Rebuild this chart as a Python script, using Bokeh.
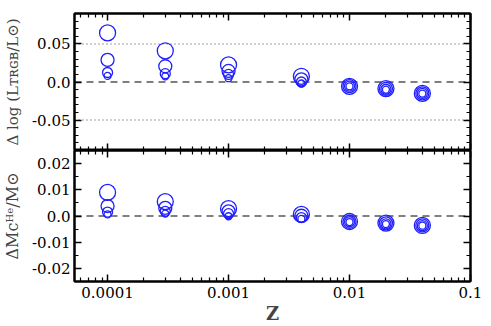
from bokeh.plotting import figure
from bokeh.models import LogAxis, LinearAxis, FixedTicker, Span, Range1d
from bokeh.layouts import column
from bokeh.embed import file_html
from bokeh.resources import INLINE

# ---------------- data ----------------
Z = [1e-4, 3e-4, 1e-3, 4e-3, 1e-2, 2e-2, 4e-2]

# four model sets per metallicity (largest to smallest marker)
dlogL_set1 = [0.0645, 0.041, 0.0225, 0.0075, -0.0057, -0.0087, -0.0150]
dlogL_set2 = [0.0290, 0.0207, 0.0145, 0.0035, -0.0055, -0.0090, -0.0150]
dlogL_set3 = [0.0125, 0.0110, 0.0100, 0.0000, -0.0055, -0.0095, -0.0150]
dlogL_set4 = [0.0080, 0.0075, 0.0050, -0.0020, -0.0057, -0.0100, -0.0152]

dMc_set1 = [0.0090, 0.0055, 0.0028, 0.0006, -0.0021, -0.0027, -0.0036]
dMc_set2 = [0.0038, 0.0031, 0.0018, 0.0001, -0.0022, -0.0028, -0.0036]
dMc_set3 = [0.0015, 0.0018, 0.0009, -0.0006, -0.0022, -0.0030, -0.0037]
dMc_set4 = [0.0006, 0.0009, -0.0001, -0.0011, -0.0023, -0.0031, -0.0037]

x_major = [1e-4, 1e-3, 1e-2, 1e-1]
x_labels = ["0.0001", "0.001", "0.01", "0.1"]
x_minor = [k * 10.0 ** e for e in range(-5, -1) for k in range(2, 10)]

top_major = [-0.05, 0.0, 0.05]
top_labels = ["-0.05", "0.0", "0.05"]
top_minor = [i / 100 for i in range(-9, 10)]

bot_major = [-0.02, -0.01, 0.0, 0.01, 0.02]
bot_labels = ["-0.02", "-0.01", "0.0", "0.01", "0.02"]
bot_minor = [i * 0.005 for i in range(-5, 6)]

x_lim = (5.33e-5, 0.1)
top_lim = (-0.09, 0.09)
bot_lim = (-0.025, 0.025)

marker_sizes = [16, 13, 10, 7]

FONT = "DejaVu Serif"
BLUE = "#1f1fff"


def style_axis(ax, ticker, labels=None, show=True):
    ax.ticker = ticker
    ax.major_tick_in = 7
    ax.major_tick_out = 0
    ax.minor_tick_in = 4
    ax.minor_tick_out = 0
    ax.axis_line_width = 2
    ax.axis_line_color = "black"
    ax.major_tick_line_width = 1.5
    ax.minor_tick_line_width = 1.2
    ax.major_label_text_font = FONT
    ax.major_label_text_font_size = "15px"
    ax.major_label_text_color = "black"
    if labels is not None:
        ax.major_label_overrides = labels
    if not show:
        ax.major_label_text_font_size = "1px"
        ax.major_label_text_alpha = 0.0
        ax.major_label_standoff = 0


def make_panel(ys, ylim, ymajor, ylabels, yminor, ylabel, label_size, height,
               bottom_labels, min_top, min_bottom, dotted):
    p = figure(width=491, height=height, x_axis_type="log",
               x_range=Range1d(*x_lim), y_range=Range1d(*ylim),
               output_backend="svg", toolbar_location=None,
               min_border_left=74, min_border_right=21,
               min_border_top=min_top, min_border_bottom=min_bottom)
    p.xgrid.visible = False
    p.ygrid.visible = False
    p.outline_line_color = "black"
    p.outline_line_width = 2
    p.background_fill_color = "white"
    p.border_fill_color = "white"

    xt = FixedTicker(ticks=x_major, minor_ticks=x_minor)
    yt = FixedTicker(ticks=ymajor, minor_ticks=yminor)
    xlab = {v: s for v, s in zip(x_major, x_labels)}
    ylab = {v: s for v, s in zip(ymajor, ylabels)}

    xa = p.xaxis[0]
    style_axis(xa, xt, xlab, show=bottom_labels)
    if bottom_labels:
        xa.major_label_standoff = 5
        xa.axis_label = "Z"
        xa.axis_label_text_font = FONT
        xa.axis_label_text_font_style = "bold"
        xa.axis_label_text_font_size = "18px"
        xa.axis_label_standoff = 2
    ya = p.yaxis[0]
    style_axis(ya, yt, ylab)
    ya.major_label_standoff = 4
    ya.axis_label = ylabel
    ya.axis_label_text_font = FONT
    ya.axis_label_text_font_style = "normal"
    ya.axis_label_text_font_size = label_size
    ya.axis_label_standoff = 7

    top_ax = LogAxis()
    style_axis(top_ax, FixedTicker(ticks=x_major, minor_ticks=x_minor), show=False)
    p.add_layout(top_ax, "above")
    right_ax = LinearAxis()
    style_axis(right_ax, FixedTicker(ticks=ymajor, minor_ticks=yminor), show=False)
    p.add_layout(right_ax, "right")

    p.add_layout(Span(location=0.0, dimension="width", line_color="black",
                      line_dash="7 5", line_width=1.2, level="underlay"))
    for loc in dotted:
        p.add_layout(Span(location=loc, dimension="width", line_color="#444444",
                          line_dash="1 3", line_width=1.1, level="underlay"))

    for y, s in zip(ys, marker_sizes):
        p.scatter(Z, y, size=s, marker="circle", fill_color=None,
                  line_color=BLUE, line_width=1.3)
    return p


p1 = make_panel([dlogL_set1, dlogL_set2, dlogL_set3, dlogL_set4], top_lim,
                top_major, top_labels, top_minor,
                "Δ log (Lᴛʀɢʙ/L⊙)", "15px", 150, False, 13, 0, [0.05, -0.05])
p2 = make_panel([dMc_set1, dMc_set2, dMc_set3, dMc_set4], bot_lim,
                bot_major, bot_labels, bot_minor,
                "ΔMcᴴᵉ/M⊙", "16px", 176, True, 0, 39, [])

layout = column(p1, p2, spacing=0)
open("out.html", "w").write(file_html(layout, INLINE))
